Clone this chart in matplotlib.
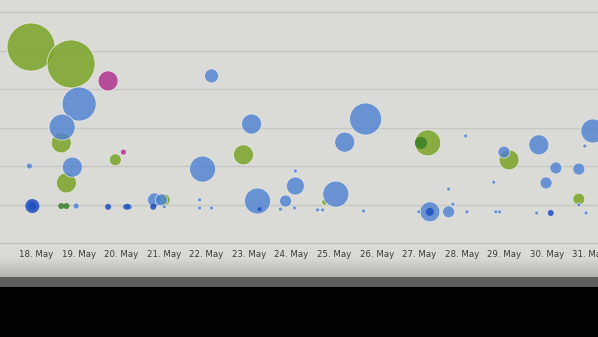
import matplotlib
matplotlib.use("Agg")
import matplotlib.pyplot as plt
import numpy as np

# ---- data (day of May, value, bubble z) ----
green_day = [17.88, 18.82, 18.59, 18.71, 19.86, 22.87, 24.78, 27.20, 29.11, 30.75, 21.01]
green_val = [5.09, 4.65, 2.60, 1.56, 2.16, 2.29, 1.06, 2.60, 2.16, 1.14, 1.12]
green_z   = [24, 24, 10, 10, 6, 10, 3, 13, 10, 6, 6]

dkgreen_day = [18.59, 18.71, 27.04]
dkgreen_val = [0.96, 0.96, 2.60]
dkgreen_z   = [3, 3, 6]

magenta_day = [19.69, 20.05]
magenta_val = [4.21, 2.36]
magenta_z   = [10, 3]

blue_day = [22.12, 19.01, 18.61, 18.85, 17.84, 23.06, 21.91, 23.20, 24.09, 24.09,
            23.86, 25.74, 25.25, 25.04, 28.09, 29.81, 28.99, 30.21, 30.75, 29.98,
            31.08, 30.89, 28.75, 27.69, 27.25, 27.69, 27.79, 20.78, 20.94,
            18.94, 20.09, 20.19, 21.01, 21.84, 21.84, 22.12, 23.74, 24.07, 24.61,
            24.73, 25.69, 26.99, 28.12, 28.80, 28.89, 29.76, 30.92, 30.75]
blue_val = [4.34, 3.61, 3.01, 1.97, 2.00, 3.09, 1.92, 1.09, 1.48, 1.87,
            1.09, 3.22, 2.62, 1.27, 2.78, 2.55, 2.36, 1.95, 1.92, 1.56,
            2.91, 2.52, 1.58, 1.40, 0.81, 0.81, 1.01, 1.12, 1.12,
            0.96, 0.94, 0.94, 0.94, 1.12, 0.91, 0.91, 0.88, 0.91, 0.86,
            0.86, 0.83, 0.81, 0.81, 0.81, 0.81, 0.78, 0.78, 0.99]
blue_z = [7, 17, 13, 10, 3, 10, 13, 13, 9, 2,
          6, 16, 10, 13, 2, 10, 6, 6, 6, 6,
          12, 2, 2, 2, 10, 6, 2, 7, 6,
          3, 3, 3, 2, 2, 2, 2, 2, 2, 2,
          2, 2, 2, 2, 2, 2, 2, 2, 2]

dkblue_day = [17.91, 17.91, 19.69, 20.75, 27.25, 23.25, 30.09, 20.14]
dkblue_val = [0.96, 0.96, 0.94, 0.94, 0.81, 0.88, 0.78, 0.94]
dkblue_z   = [7, 4, 3, 3, 4, 2, 3, 3]

tick_days = list(range(18, 32))
tick_labels = [f"{d}. May" for d in tick_days]

W, H, DPI = 598, 337, 100
fig = plt.figure(figsize=(W / DPI, H / DPI), dpi=DPI)
bg = "#dadad6"
fig.patch.set_facecolor(bg)

# background strip below the plot (screen edge gradient + bezel)
bax = fig.add_axes([0, 0, 1, (H - 243) / H], zorder=0)
bax.set_axis_off()
rows = np.arange(243, H)
col = np.zeros((len(rows), 3))
for i, r in enumerate(rows):
    if r < 258:
        c = 0.855
    elif r < 278:
        c = 0.855 - (r - 258) / 20 * 0.16
    elif r < 288:
        c = 0.37
    else:
        c = 0.01
    col[i] = [c, c, c * 0.98]
bax.imshow(col[:, None, :].repeat(2, axis=1), aspect="auto", extent=[0, 1, 0, 1],
           interpolation="nearest")
bax.set_xlim(0, 1); bax.set_ylim(0, 1)

# main axes: bottom line at pixel 243 from top
ax = fig.add_axes([0, (H - 243) / H, 1, 243 / H], zorder=2)
ax.set_facecolor(bg)
ax.set_xlim(17.15, 31.2)
ax.set_ylim(0, 243 / 38.5)

for gy in range(1, 7):
    ax.axhline(gy, color="#c6c6c2", lw=1.0, zorder=0)

def s_of(z):
    return (2 * np.asarray(z) * 72 / DPI) ** 2

edge = dict(edgecolors="#ececea", linewidths=0.6)
ax.scatter(green_day, green_val, s=s_of(green_z), color="#7aa428", alpha=0.85, zorder=3, **edge)
ax.scatter(dkgreen_day, dkgreen_val, s=s_of(dkgreen_z), color="#2f7d22", alpha=0.8, lw=0, zorder=4)
ax.scatter(magenta_day, magenta_val, s=s_of(magenta_z), color="#b1338f", alpha=0.85, zorder=3, **edge)
ax.scatter(blue_day, blue_val, s=s_of(blue_z), color="#4c80d2", alpha=0.8, zorder=3, **edge)
ax.scatter(dkblue_day, dkblue_val, s=s_of(dkblue_z), color="#1d4fc0", alpha=0.85, lw=0, zorder=4)

for sp in ["top", "right", "left"]:
    ax.spines[sp].set_visible(False)
ax.spines["bottom"].set_color("#bdbdb9")
ax.set_yticks([])
ax.set_xticks(tick_days)
ax.set_xticklabels(tick_labels, fontsize=6.2, color="#3a3a3a")
ax.tick_params(axis="x", length=0, pad=5)

fig.savefig("out.png", dpi=DPI, facecolor=fig.get_facecolor())
